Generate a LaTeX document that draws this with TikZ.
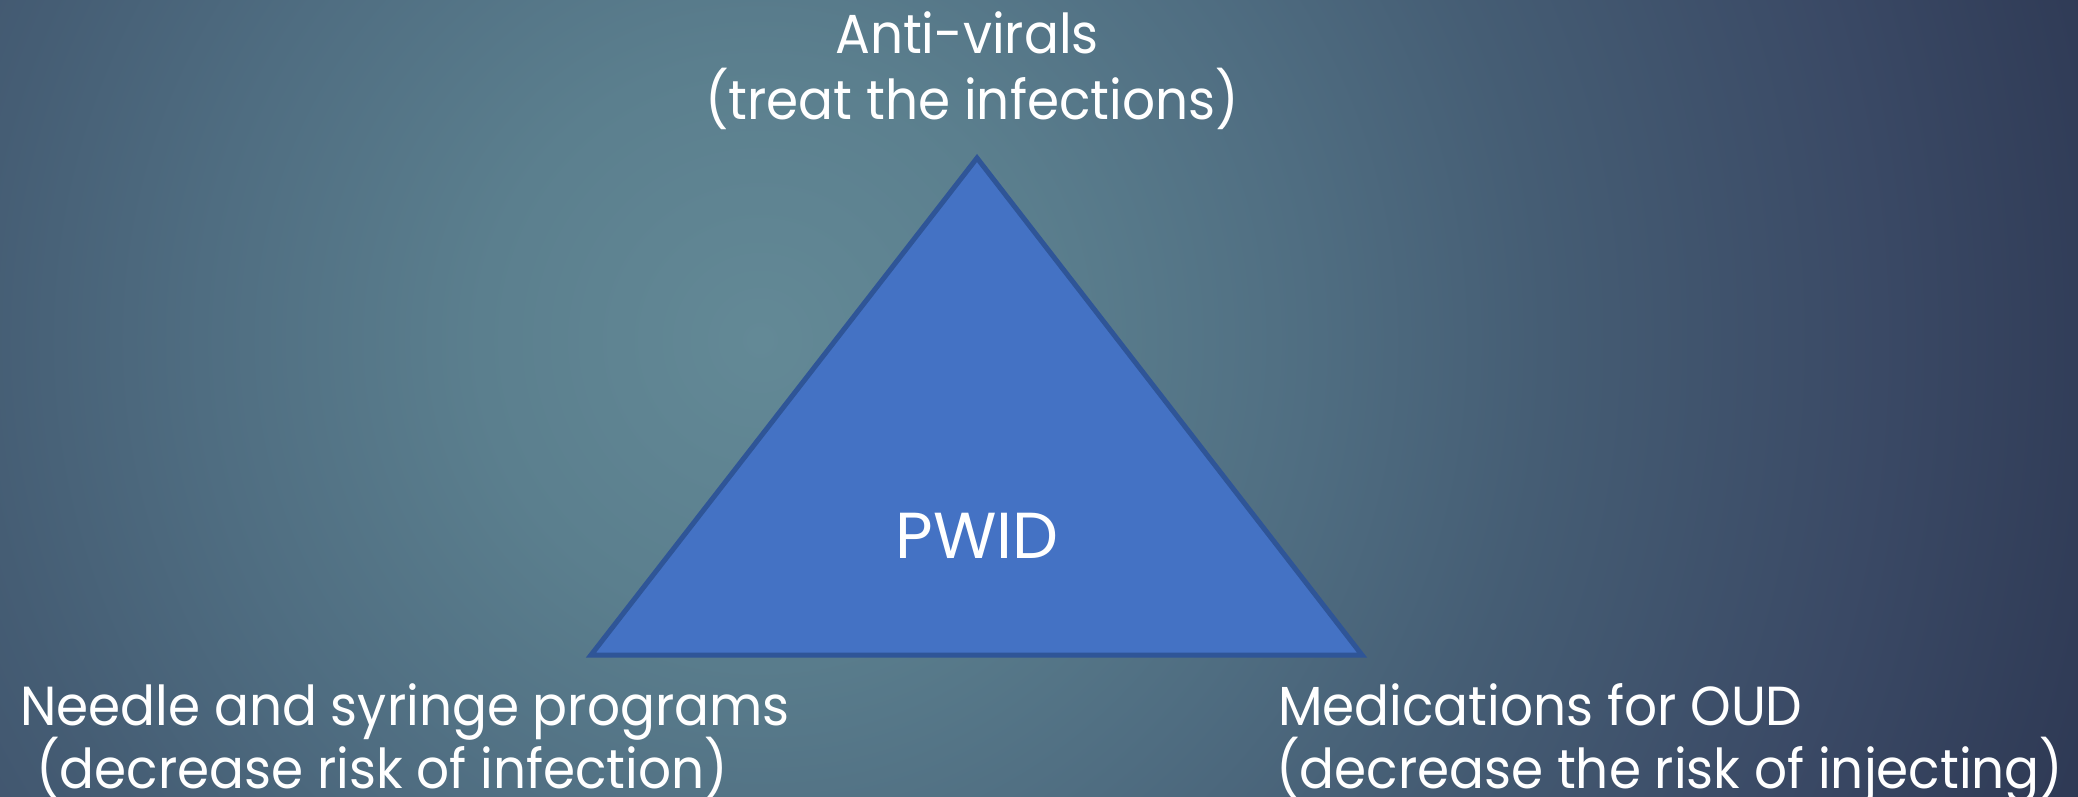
\documentclass[tikz,border=0pt]{standalone}
\usepackage{fontspec}
\setmainfont{Poppins}[FakeStretch=0.94]
\newfontfamily\pwidfont{Poppins}
\definecolor{bgA}{HTML}{638996}
\definecolor{bgB}{HTML}{5B7F8E}
\definecolor{bgC}{HTML}{4F6D81}
\definecolor{bgD}{HTML}{455D74}
\definecolor{bgE}{HTML}{3A4965}
\definecolor{bgF}{HTML}{2E3954}
\definecolor{triFill}{HTML}{4472C4}
\definecolor{triLine}{HTML}{2F5597}
\pgfdeclareradialshading{bgshade}{\pgfpoint{0bp}{0bp}}{%
  color(0bp)=(bgA); color(5bp)=(bgB); color(10bp)=(bgC); color(14bp)=(bgD); color(20bp)=(bgE); color(25bp)=(bgF); color(50bp)=(bgF)}
\tikzset{
  lbl/.style={text=white, inner sep=0pt, font=\fontsize{55}{65}\selectfont},
  centerlbl/.style={text=white, inner sep=0pt, font=\pwidfont\fontsize{65}{72}\selectfont},
  tri/.style={fill=triFill, draw=triLine, line width=5pt, line join=miter}
}
\begin{document}
\begin{tikzpicture}[x=1pt, y=-1pt]
  \useasboundingbox (0,0) rectangle (2078,796);
  \begin{scope}
    \clip (0,0) rectangle (2078,796);
    \fill[bgF] (0,0) rectangle (2078,796);
    \shade[shading=bgshade] (760,340) circle[radius=1400];
  \end{scope}
  \coordinate (apex) at (977,158);
  \coordinate (bl) at (591,655);
  \coordinate (br) at (1362,655);
  \draw[tri] (apex) -- (bl) -- (br) -- cycle;
  \node[centerlbl, anchor=base] (pwid) at (977,558) {PWID};
  \node[lbl, anchor=base] (top1) at (967,53) {Anti-virals};
  \node[lbl, anchor=base] (top2) at (972,119) {(treat the infections)};
  \node[lbl, anchor=base west] (left1) at (20,725) {Needle and syringe programs};
  \node[lbl, anchor=base west] (left2) at (36,788) {(decrease risk of infection)};
  \node[lbl, anchor=base west] (right1) at (1278,725) {Medications for OUD};
  \node[lbl, anchor=base west] (right2) at (1276,788) {(decrease the risk of injecting)};
\end{tikzpicture}
\end{document}
